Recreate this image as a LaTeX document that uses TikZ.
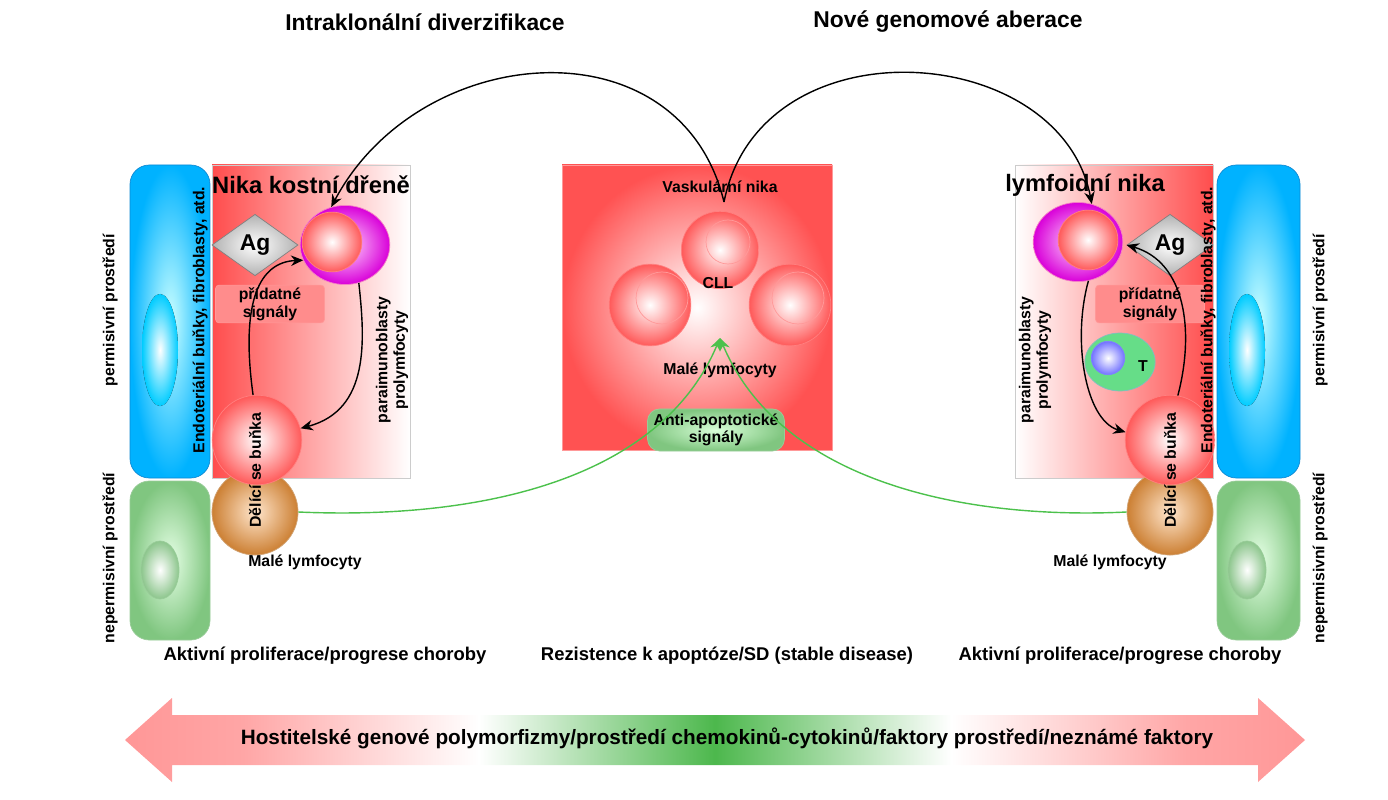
\documentclass[tikz,border=0pt]{standalone}
\usepackage{fontspec}
\setmainfont{Liberation Sans}
\usetikzlibrary{shapes.geometric,shapes.arrows,arrows.meta,positioning}
\colorlet{cellred}{red!65}
\colorlet{nikared}{red!70}
\colorlet{sigblue}{cyan!70!blue}
\colorlet{siggreen}{green!55!black!70}
\pgfdeclarehorizontalshading{hostshade}{100bp}{color(0bp)=(red!70); color(30bp)=(red!35); color(40bp)=(white); color(50bp)=(green!60!black!70); color(60bp)=(white); color(70bp)=(red!35); color(100bp)=(red!70)}
\tikzset{
  lbl/.style={font=\bfseries\fontsize{9}{10}\selectfont, align=center},
  ttl/.style={font=\bfseries\fontsize{13}{15}\selectfont},
  cell/.style={circle, draw=red!50, shade, inner color=white, outer color=cellred, minimum size=#1, inner sep=0pt},
  brown cell/.style={circle, draw=brown!70, shade, inner color=orange!20, outer color=brown!80!orange, minimum size=#1, inner sep=0pt},
  violet cell/.style={ellipse, draw=magenta!50, shade, inner color=magenta!15, outer color=magenta!70!violet, minimum width=51pt, minimum height=45pt, inner sep=0pt},
  agnode/.style={diamond, draw=gray, shade, inner color=white, outer color=gray!60, minimum width=49pt, minimum height=35pt, inner sep=0pt, font=\bfseries\fontsize{13}{14}\selectfont},
  signal/.style={rounded corners=2pt, draw=red!40, fill=red!45, minimum width=62pt, minimum height=21.5pt, inner sep=0pt, lbl},
  bluewall/.style={rounded corners=11pt, draw=sigblue, shade, inner color=cyan!20, outer color=sigblue},
  greenwall/.style={rounded corners=11pt, draw=green!50!black!40, shade, inner color=green!10, outer color=green!55!black!50},
  blk/.style={-{Stealth[length=7pt,width=6pt]}, thick},
  grn/.style={-{Stealth[length=7pt,width=6pt]}, thick, green!65!black!70}
}
\begin{document}
\begin{tikzpicture}[x=0.02cm,y=-0.02cm]
\useasboundingbox (0,0) rectangle (1388,800);
% titles
\node[ttl] (tintra) at (425,22) {Intraklonální diverzifikace};
\node[ttl] (tnove) at (948,22) {Nové genomové aberace};
% ---- left side
\draw[bluewall] (130,165) rectangle (210,478);
\draw[greenwall] (130,481) rectangle (210,640);
\fill[shade, inner color=white, outer color=cyan!80!blue] (160,350) ellipse (18 and 56);
\draw[green!50!black!40, shade, inner color=white, outer color=green!50!black!45] (160,570) ellipse (19 and 29);
\shade[left color=nikared, right color=white] (212,165) rectangle (410,478);
\draw[gray!40] (212,165) rectangle (410,478);
\node[ttl, font=\bfseries\fontsize{13.5}{15}\selectfont] (nikaL) at (311,185) {Nika kostní dřeně};
\node[agnode] (agL) at (255,245) {Ag};
\node[violet cell] (violL) at (345,245) {};
\node[cell=34pt] (nucL) at (332,242) {};
\node[signal] (sigL) at (270,304) {přídatné\\signály};
\node[brown cell=49pt] (brownL) at (255,512) {};
\node[cell=51pt] (divL) at (257,440) {};
\node[lbl, rotate=90] (divtL) at (255,470) {Dělící se buňka};
\node[lbl, rotate=90] (paraL) at (392,360) {paraimunoblasty\\prolymfocyty};
\node[lbl, rotate=90] (endoL) at (200,320) {Endoteriální buňky, fibroblasty, atd.};
\node[lbl, rotate=90] (permL) at (110,310) {permisivní prostředí};
\node[lbl, rotate=90] (npermL) at (110,558) {nepermisivní prostředí};
\node[lbl] (malL) at (305,562) {Malé lymfocyty};
\draw[blk] (divL.95) .. controls (240,300) and (260,262) .. (violL.200);
\draw[blk] (violL.-70) .. controls (365,340) and (370,410) .. (divL.15);
% ---- centre
\draw[red!40, shade, inner color=white, outer color=red!68] (562,165) rectangle (832,450);
\node[lbl] (vask) at (720,187) {Vaskulární nika};
\node[cell=44pt] (cllT) at (720,250) {};
\draw[red!40] (728,242) circle (22);
\node[cell=46.5pt] (cllL) at (650,305) {};
\draw[red!40] (662,298) circle (26);
\node[cell=46.5pt] (cllR) at (790,305) {};
\draw[red!40] (798,298) circle (26);
\node[lbl] (cll) at (718,283) {CLL};
\node[lbl] (malC) at (720,370) {Malé lymfocyty};
\node[rounded corners=7pt, draw=green!50!black!40, shade, inner color=green!15, outer color=green!55!black!50, minimum width=78pt, minimum height=24pt, inner sep=0pt, lbl] (anti) at (716,430) {Anti-apoptotické\\signály};
\coordinate (target) at (720,338);
% ---- right side
\draw[bluewall] (1217,165) rectangle (1300,478);
\draw[greenwall] (1217,481) rectangle (1300,640);
\fill[shade, inner color=white, outer color=cyan!80!blue] (1247,350) ellipse (18 and 56);
\draw[green!50!black!40, shade, inner color=white, outer color=green!50!black!45] (1247,570) ellipse (19 and 29);
\shade[left color=white, right color=nikared] (1015,165) rectangle (1213,478);
\draw[gray!40] (1015,165) rectangle (1213,478);
\node[ttl, font=\bfseries\fontsize{13.5}{15}\selectfont] (nikaR) at (1085,185) {lymfoidní nika};
\node[agnode] (agR) at (1170,245) {Ag};
\node[violet cell] (violR) at (1078,242) {};
\node[cell=34pt] (nucR) at (1088,240) {};
\node[signal] (sigR) at (1150,304) {přídatné\\signály};
\node[ellipse, draw=teal!50, fill=teal!45!green!60, minimum width=40pt, minimum height=33pt] (tcell) at (1120,362) {};
\node[circle, draw=blue!50, shade, inner color=white, outer color=blue!55, minimum size=19pt, inner sep=0pt] (tnuc) at (1108,358) {};
\node[lbl] (tlab) at (1143,366) {T};
\node[brown cell=49pt] (brownR) at (1170,512) {};
\node[cell=51pt] (divR) at (1170,440) {};
\node[lbl, rotate=90] (divtR) at (1170,470) {Dělící se buňka};
\node[lbl, rotate=90] (paraR) at (1035,360) {paraimunoblasty\\prolymfocyty};
\node[lbl, rotate=90] (endoR) at (1208,320) {Endoteriální buňky, fibroblasty, atd.};
\node[lbl, rotate=90] (permR) at (1320,310) {permisivní prostředí};
\node[lbl, rotate=90] (npermR) at (1320,558) {nepermisivní prostředí};
\node[lbl] (malR) at (1110,562) {Malé lymfocyty};
\draw[blk] (divR.80) .. controls (1195,330) and (1185,262) .. (agR.west);
\draw[blk] (violR.-75) .. controls (1072,340) and (1085,420) .. (divR.170);
% ---- big arcs
\coordinate (vtip) at (724,202);
\draw[blk] (vtip) .. controls (680,20) and (420,40) .. (violL.110);
\draw[blk] (vtip) .. controls (760,20) and (1060,40) .. (violR.70);
% ---- green signal lines
\draw[grn] (brownL.east) .. controls (480,520) and (660,480) .. (target);
\draw[grn] (brownR.west) .. controls (960,520) and (780,480) .. (target);
% ---- bottom
\node[lbl, font=\bfseries\fontsize{10.5}{12}\selectfont] (aktL) at (325,656) {Aktivní proliferace/progrese choroby};
\node[lbl, font=\bfseries\fontsize{10.5}{12}\selectfont] (rezi) at (727,656) {Rezistence k apoptóze/SD (stable disease)};
\node[lbl, font=\bfseries\fontsize{10.5}{12}\selectfont] (aktR) at (1120,656) {Aktivní proliferace/progrese choroby};
\shade[shading=hostshade] (125,740) -- (172,698) -- (172,715) -- (1258,715) -- (1258,698) -- (1305,740)
  -- (1258,782) -- (1258,765) -- (172,765) -- (172,782) -- cycle;
\node[lbl, font=\bfseries\fontsize{11.8}{13}\selectfont] (hostt) at (727,738) {Hostitelské genové polymorfizmy/prostředí chemokinů-cytokinů/faktory prostředí/neznámé faktory};
\end{tikzpicture}
\end{document}
